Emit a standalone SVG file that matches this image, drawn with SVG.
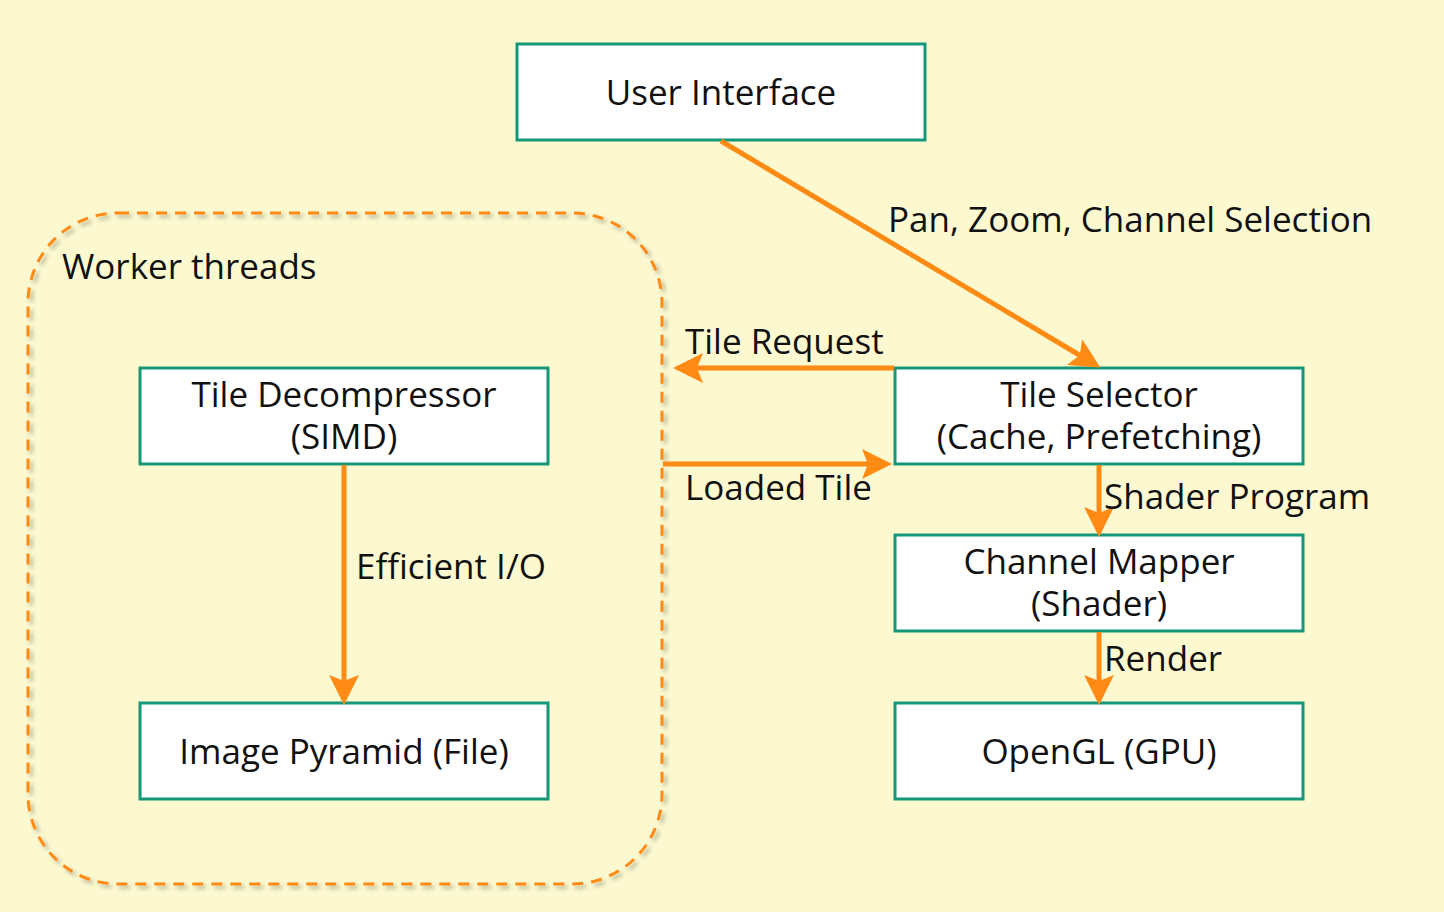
<svg xmlns="http://www.w3.org/2000/svg" width="1444" height="912" viewBox="0 0 1444 912">
<defs>
<marker id="ah" markerWidth="6" markerHeight="6" refX="5" refY="3" orient="auto" markerUnits="strokeWidth">
<path d="M0,0 L6,3 L0,6 L1.2,3 Z" fill="#FF8A14"/>
</marker>
<filter id="sh" x="-5%" y="-5%" width="110%" height="110%">
<feDropShadow dx="3" dy="3" stdDeviation="2" flood-color="#000" flood-opacity="0.3"/>
</filter>
</defs>
<style>
.box{fill:#fff;stroke:#16977A;stroke-width:3}
.t{font-family:"Open Sans","Noto Sans",sans-serif;font-size:35px;fill:#111}
.c{text-anchor:middle}
.ln{stroke:#FF8A14;stroke-width:5;fill:none;marker-end:url(#ah)}
</style>
<rect width="1444" height="912" fill="#FCF9D0"/>
<g id="worker-threads">
<rect x="28" y="213" width="634" height="671" rx="90" ry="90" fill="none" stroke="#FF8A14" stroke-width="3" stroke-dasharray="11 8" filter="url(#sh)"/>
<text class="t" x="62" y="279">Worker threads</text>
</g>
<g id="user-interface">
<rect class="box" x="517" y="44" width="408" height="96"/>
<text class="t c" x="721" y="105">User Interface</text>
</g>
<g id="tile-decompressor">
<rect class="box" x="140" y="368" width="408" height="96"/>
<text class="t c" x="344" y="407">Tile Decompressor<tspan x="344" y="449">(SIMD)</tspan></text>
</g>
<g id="image-pyramid">
<rect class="box" x="140" y="703" width="408" height="96"/>
<text class="t c" x="344" y="764">Image Pyramid (File)</text>
</g>
<g id="tile-selector">
<rect class="box" x="895" y="368" width="408" height="96"/>
<text class="t c" x="1099" y="407">Tile Selector<tspan x="1099" y="449">(Cache, Prefetching)</tspan></text>
</g>
<g id="channel-mapper">
<rect class="box" x="895" y="535" width="408" height="96"/>
<text class="t c" x="1099" y="574">Channel Mapper<tspan x="1099" y="616">(Shader)</tspan></text>
</g>
<g id="opengl">
<rect class="box" x="895" y="703" width="408" height="96"/>
<text class="t c" x="1099" y="764">OpenGL (GPU)</text>
</g>
<g id="connectors">
<line class="ln" x1="721" y1="141" x2="1096" y2="365"/>
<text class="t" x="888" y="232">Pan, Zoom, Channel Selection</text>
<line class="ln" x1="894" y1="368" x2="678" y2="368"/>
<text class="t" x="685" y="354">Tile Request</text>
<line class="ln" x1="663" y1="464" x2="887" y2="464"/>
<text class="t" x="685" y="500">Loaded Tile</text>
<line class="ln" x1="344" y1="465" x2="344" y2="700"/>
<text class="t" x="356" y="579">Efficient I/O</text>
<line class="ln" x1="1099" y1="465" x2="1099" y2="532"/>
<text class="t" x="1104" y="509">Shader Program</text>
<line class="ln" x1="1099" y1="632" x2="1099" y2="700"/>
<text class="t" x="1104" y="671">Render</text>
</g>
</svg>
